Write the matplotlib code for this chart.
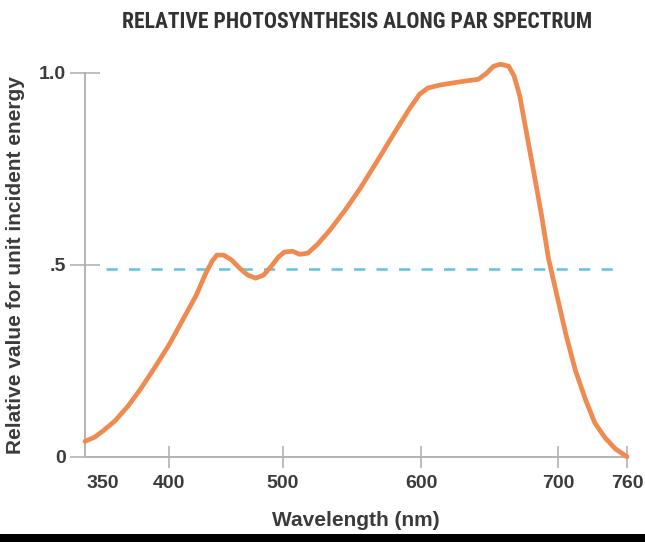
import numpy as np
import matplotlib
matplotlib.use("Agg")
import matplotlib.pyplot as plt
from matplotlib import font_manager
from matplotlib.patches import Rectangle

# Relative photosynthetic response (per unit incident energy) across the PAR band
wavelength_nm = [337, 344, 350, 359, 369, 378, 389, 400, 412, 424, 432, 438,
                 442, 448, 455, 462, 469, 476, 483, 490, 496, 501, 507, 512,
                 518, 525, 534, 545, 556, 570, 581, 592, 599, 605, 614, 628,
                 642, 648, 653, 658, 664, 668, 672, 676, 682, 688, 693, 700,
                 707, 715, 724, 732, 741, 750, 760]
response = [0.040, 0.051, 0.067, 0.093, 0.132, 0.174, 0.231, 0.291, 0.356,
            0.421, 0.476, 0.510, 0.525, 0.525, 0.512, 0.491, 0.473, 0.465,
            0.473, 0.497, 0.520, 0.533, 0.535, 0.527, 0.530, 0.553, 0.590,
            0.642, 0.699, 0.780, 0.845, 0.908, 0.944, 0.960, 0.968, 0.976,
            0.983, 0.999, 1.017, 1.022, 1.017, 0.991, 0.941, 0.863, 0.747,
            0.629, 0.517, 0.408, 0.317, 0.226, 0.148, 0.088, 0.049, 0.020,
            0.000]

reference_level = 0.49
reference_span = [352, 750]

x_ticks = [350, 400, 500, 600, 700, 760]
x_tick_labels = ["350", "400", "500", "600", "700", "760"]
y_ticks = [0, 0.5, 1.0]
y_tick_labels = ["0", ".5", "1.0"]

TITLE = "RELATIVE PHOTOSYNTHESIS ALONG PAR SPECTRUM"

# The wavelength axis is drawn with uneven spacing between its ticks,
# so it uses a piecewise-linear scale.
_nm_knots = np.array([337, 350, 400, 500, 600, 700, 760], dtype=float)
_pos_knots = np.array([0, 18, 84, 198, 336, 473, 542], dtype=float)


def _extend(a, b):
    lo = (b[1] - b[0]) / (a[1] - a[0])
    hi = (b[-1] - b[-2]) / (a[-1] - a[-2])
    a2 = np.concatenate([[a[0] - 1e4], a, [a[-1] + 1e4]])
    b2 = np.concatenate([[b[0] - 1e4 * lo], b, [b[-1] + 1e4 * hi]])
    return a2, b2


_nm_ext, _pos_ext = _extend(_nm_knots, _pos_knots)


def fwd(x):
    return np.interp(x, _nm_ext, _pos_ext)


def inv(p):
    return np.interp(p, _pos_ext, _nm_ext)


def condensed_title_font():
    """Pick a narrow bold face for the headline if one is installed."""
    names = {f.name for f in font_manager.fontManager.ttflist}
    for fam in ("Liberation Sans Narrow", "DejaVu Sans Condensed",
                "Roboto Condensed", "Open Sans Condensed", "Arial Narrow"):
        if fam in names:
            return dict(family=[fam, "DejaVu Sans"])
    for f in font_manager.fontManager.ttflist:
        if f.name == "DejaVu Sans" and "condensed" in str(f.stretch):
            return dict(family=["DejaVu Sans"], stretch="condensed")
    return dict(family=["Liberation Sans", "DejaVu Sans"])


ORANGE = "#ef8a50"
CYAN = "#5cc3ea"
AXIS_GREY = "#b3b3b3"
TEXT = "#3b3b3b"

fig = plt.figure(figsize=(6.45, 5.42), dpi=100)
ax = fig.add_axes([85 / 645, 1 - 456.7 / 542, 542 / 645, 384 / 542])
ax.set_xscale("function", functions=(fwd, inv))
ax.set_xlim(337, 760)
ax.set_ylim(0, 1.0)

ax.plot(reference_span, [reference_level, reference_level], color=CYAN,
        lw=1.8, dashes=(4.5, 4.5), zorder=2)
ax.plot(wavelength_nm, response, color=ORANGE, lw=3.4,
        solid_joinstyle="round", solid_capstyle="round", clip_on=False,
        zorder=3)

for side in ("top", "right"):
    ax.spines[side].set_visible(False)
for side in ("left", "bottom"):
    ax.spines[side].set_color(AXIS_GREY)
    ax.spines[side].set_linewidth(1.4)

ax.set_xticks(x_ticks)
ax.set_xticklabels(x_tick_labels)
ax.set_yticks(y_ticks)
ax.set_yticklabels(y_tick_labels)
ax.xaxis.get_major_ticks()[0].tick1line.set_visible(False)
ax.tick_params(axis="x", direction="inout", length=16, width=1.2,
               color=AXIS_GREY, pad=5, labelsize=14, labelcolor=TEXT)
ax.tick_params(axis="y", direction="inout", length=21, width=1.2,
               color=AXIS_GREY, pad=3, labelsize=14, labelcolor=TEXT)
for lab in ax.get_xticklabels() + ax.get_yticklabels():
    lab.set_fontfamily(["Liberation Sans", "DejaVu Sans"])
    lab.set_fontweight("bold")

ax.set_xlabel("Wavelength (nm)", fontsize=15, fontweight="bold", color=TEXT,
              family=["Liberation Sans", "DejaVu Sans"], labelpad=14)
ax.set_ylabel("Relative value for unit incident energy", fontsize=15,
              fontweight="bold", color=TEXT,
              family=["Liberation Sans", "DejaVu Sans"], labelpad=10)

title = fig.text(0.5535, 1 - 22 / 542, TITLE, ha="center", va="center",
                 fontsize=20, fontweight="bold", color="#333333",
                 **condensed_title_font())

# Fit the headline to its banner width above the plot
renderer = fig.canvas.get_renderer()
target_w = 470
w = title.get_window_extent(renderer).width
if w > target_w:
    title.set_fontsize(20 * target_w / w)

# Dark strip along the bottom edge
fig.patches.append(Rectangle((0, 0), 1, 8 / 542, transform=fig.transFigure,
                             facecolor="black", edgecolor="none"))

fig.savefig("out.png", dpi=100, facecolor="white")
